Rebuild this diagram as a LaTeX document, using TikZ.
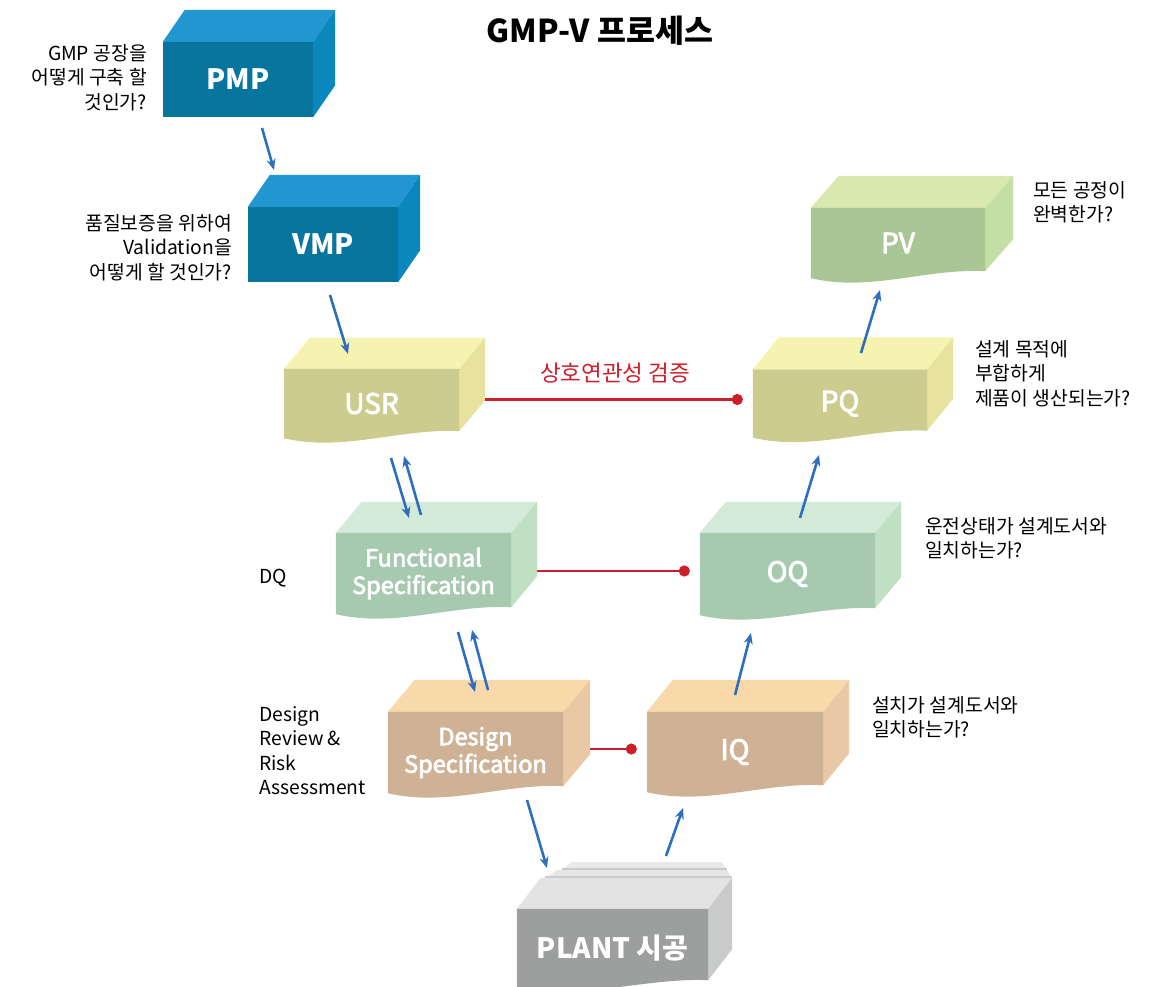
\documentclass[tikz,border=0pt]{standalone}
\usepackage{fontspec}
\setmainfont{Noto Sans CJK KR}
\newfontfamily\medfont{Noto Sans CJK KR}[FakeBold=3]
\usetikzlibrary{positioning,calc,arrows.meta,backgrounds}

\definecolor{mpfront}{RGB}{8,117,158}
\definecolor{mptop}{RGB}{34,150,209}
\definecolor{mpside}{RGB}{10,135,188}
\definecolor{urfront}{RGB}{205,204,143}
\definecolor{urtop}{RGB}{246,243,176}
\definecolor{urside}{RGB}{231,226,157}
\definecolor{fsfront}{RGB}{166,201,176}
\definecolor{fstop}{RGB}{212,234,216}
\definecolor{fsside}{RGB}{191,224,195}
\definecolor{dsfront}{RGB}{207,178,149}
\definecolor{dstop}{RGB}{249,216,169}
\definecolor{dsside}{RGB}{233,201,165}
\definecolor{pvfront}{RGB}{169,199,148}
\definecolor{pvtop}{RGB}{216,232,174}
\definecolor{pvside}{RGB}{196,223,163}
\definecolor{plfront}{RGB}{157,158,158}
\definecolor{pltop}{RGB}{227,227,227}
\definecolor{plside}{RGB}{201,202,202}
\definecolor{arrowblue}{RGB}{46,110,190}
\definecolor{linkred}{RGB}{204,31,42}

\newcommand\solidbox[6]{%
\begin{pgfonlayer}{background}
\fill[#5] (#1.north west) -- ++(#2,#3) -- ($(#1.north east)+(#2,#3)$) -- (#1.north east) -- cycle;
\fill[#6] (#1.north east) -- ++(#2,#3) -- ($(#1.south east)+(#2,#3)$) -- (#1.south east) -- cycle;
\fill[#4] (#1.north west) rectangle (#1.south east);
\end{pgfonlayer}}

\newcommand\wavybox[6]{%
\begin{pgfonlayer}{background}
\fill[#5] (#1.north west) -- ++(#2,#3) -- ($(#1.north east)+(#2,#3)$) -- (#1.north east) -- cycle;
\fill[#6] (#1.north east) -- ++(#2,#3) -- ($(#1.south east)+(#2,#3-7)$) -- ($(#1.south east)+(0,-7)$) -- cycle;
\fill[#4] (#1.north west) -- (#1.north east) -- ($(#1.south east)+(0,-7)$) .. controls +(-60,-3) and +(60,14) .. (#1.south west) -- cycle;
\end{pgfonlayer}}

\tikzset{
  box/.style={minimum width=175pt, minimum height=81pt, inner sep=0pt, text=white,
    font=\medfont\fontsize{23.5}{27.5}\selectfont, align=center},
  bigbox/.style={box, font=\medfont\fontsize{28}{32}\selectfont},
  boldbox/.style={box, font=\fontsize{28}{32}\selectfont\bfseries},
  note/.style={inner sep=0pt, font=\fontsize{19.3}{24.5}\selectfont},
  arr/.style={-{Stealth[length=11pt,width=9pt]}, line width=2.6pt, arrowblue},
  link/.style={-{Circle[length=11pt]}, line width=2.2pt, linkred}
}

\begin{document}
\begin{tikzpicture}[x=1pt,y=-1pt]
\useasboundingbox (0,0) rectangle (1165,987);

\node[font=\fontsize{31.5}{34}\selectfont\bfseries] (title) at (600,31) {GMP-V 프로세스};

\node[boldbox, minimum width=150pt, minimum height=75pt] (pmp) at (238,79.5) {PMP};
\solidbox{pmp}{22}{-32}{mpfront}{mptop}{mpside}
\node[boldbox, minimum width=150pt, minimum height=75pt] (vmp) at (323,244.5) {VMP};
\solidbox{vmp}{22}{-32}{mpfront}{mptop}{mpside}

\node[bigbox, minimum height=69pt] (usr) at (371.5,403.5) {USR};
\wavybox{usr}{26}{-31}{urfront}{urtop}{urside}
\node[bigbox, minimum width=174pt, minimum height=68pt] (pq) at (840,403.5) {PQ};
\wavybox{pq}{26}{-32}{urfront}{urtop}{urside}
\node[bigbox, minimum width=174pt, minimum height=70pt] (pv) at (898,243) {PV};
\wavybox{pv}{28}{-32}{pvfront}{pvtop}{pvside}

\node[box] (fs) at (423.5,573.5) {Functional\\Specification};
\wavybox{fs}{26}{-31}{fsfront}{fstop}{fsside}
\node[bigbox, minimum height=82pt] (oq) at (787.5,574) {OQ};
\wavybox{oq}{26}{-31}{fsfront}{fstop}{fsside}

\node[box] (ds) at (475.5,752.5) {Design\\Specification};
\wavybox{ds}{27}{-32}{dsfront}{dstop}{dsside}
\node[bigbox, minimum width=176pt, minimum height=80pt] (iq) at (735,752) {IQ};
\wavybox{iq}{26}{-32}{dsfront}{dstop}{dsside}

\begin{pgfonlayer}{background}
\fill[pltop!80!white] (572,862) -- (722,862) -- (727,870) -- (562,870) -- cycle;
\fill[plside] (562,868) -- (727,868) -- (727,870) -- (562,870) -- cycle;
\fill[pltop!90!white] (557,870) -- (727,870) -- (732,878) -- (545,878) -- cycle;
\fill[plside] (545,876) -- (732,876) -- (732,878) -- (545,878) -- cycle;
\end{pgfonlayer}
\node[boldbox, minimum width=191pt, minimum height=78pt] (plant) at (612.5,948) {PLANT 시공};
\wavybox{plant}{24}{-31}{plfront}{pltop}{plside}

\node[note, anchor=north east, align=right] (pmpq) at (147,44) {GMP 공장을\\어떻게 구축 할\\것인가?};
\node[note, anchor=north east, align=right] (vmpq) at (232,214) {품질보증을 위하여\\Validation을\\어떻게 할 것인가?};
\node[note, anchor=north west, align=left] (pvq) at (1033,181) {모든 공정이\\완벽한가?};
\node[note, anchor=north west, align=left] (pqq) at (975,340) {설계 목적에\\부합하게\\제품이 생산되는가?};
\node[note, anchor=north west, align=left] (oqq) at (925,517) {운전상태가 설계도서와\\일치하는가?};
\node[note, anchor=north west, align=left] (iqq) at (872,696) {설치가 설계도서와\\일치하는가?};
\node[note, anchor=west] (dq) at (259,578) {DQ};
\node[note, anchor=north west, align=left] (dr) at (259,706) {Design\\Review \&\\Risk\\Assessment};

\node[font=\fontsize{22.5}{26}\selectfont, text=linkred] (check) at (615,373) {상호연관성 검증};
\draw[link] ([xshift=26pt,yshift=4pt]usr.east) -- ([xshift=-10pt,yshift=4pt]pq.west);
\draw[link] ([xshift=26pt,yshift=2.5pt]fs.east) -- ([xshift=-10pt,yshift=3pt]oq.west);
\draw[link] ([xshift=27pt,yshift=3.5pt]ds.east) -- ([xshift=-10pt,yshift=3pt]iq.west);

\coordinate (pmp-out) at (262,128);
\coordinate (vmp-in) at (274,170);
\coordinate (vmp-out) at (330,295);
\coordinate (usr-in) at (348,354);
\coordinate (usr-out) at (391,458);
\coordinate (fs-in) at (409,518);
\coordinate (fs-back) at (421,515);
\coordinate (usr-back) at (404,456);
\coordinate (fs-out) at (458,632);
\coordinate (ds-in) at (475,692);
\coordinate (ds-back) at (488,690);
\coordinate (fs-back2) at (472,630);
\coordinate (ds-out) at (527,800);
\coordinate (plant-in) at (547,868);
\coordinate (plant-out) at (666,856);
\coordinate (iq-in) at (683,808);
\coordinate (iq-out) at (735,695);
\coordinate (oq-in) at (751,633);
\coordinate (oq-out) at (800,518);
\coordinate (pq-in) at (819,455);
\coordinate (pq-out) at (861,353);
\coordinate (pv-in) at (880,290);

\draw[arr] (pmp-out) -- (vmp-in);
\draw[arr] (vmp-out) -- (usr-in);
\draw[arr] (usr-out) -- (fs-in);
\draw[arr] (fs-back) -- (usr-back);
\draw[arr] (fs-out) -- (ds-in);
\draw[arr] (ds-back) -- (fs-back2);
\draw[arr] (ds-out) -- (plant-in);
\draw[arr] (plant-out) -- (iq-in);
\draw[arr] (iq-out) -- (oq-in);
\draw[arr] (oq-out) -- (pq-in);
\draw[arr] (pq-out) -- (pv-in);
\end{tikzpicture}
\end{document}
